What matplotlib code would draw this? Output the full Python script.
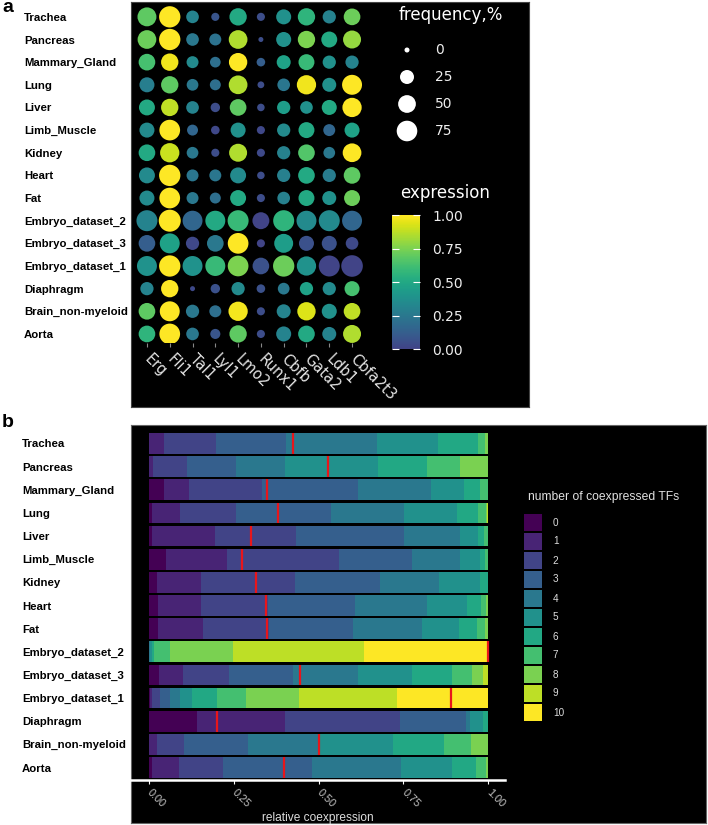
import matplotlib.pyplot as plt
import numpy as np
from matplotlib.colors import ListedColormap, Normalize
from matplotlib.cm import ScalarMappable

# ---- data -------------------------------------------------------------
tissues = ['Trachea', 'Pancreas', 'Mammary_Gland', 'Lung', 'Liver', 'Limb_Muscle',
           'Kidney', 'Heart', 'Fat', 'Embryo_dataset_2', 'Embryo_dataset_3',
           'Embryo_dataset_1', 'Diaphragm', 'Brain_non-myeloid', 'Aorta']
genes = ['Erg', 'Fli1', 'Tal1', 'Lyl1', 'Lmo2', 'Runx1', 'Cbfb', 'Gata2', 'Ldb1', 'Cbfa2t3']

# scaled mean expression (0..1), rows = tissues, cols = genes
expression = [
    [0.69, 1.00, 0.31, 0.08, 0.50, 0.05, 0.375, 0.56, 0.30, 0.72],
    [0.72, 1.00, 0.25, 0.22, 0.85, 0.05, 0.375, 0.75, 0.50, 0.80],
    [0.63, 0.97, 0.34, 0.20, 1.00, 0.12, 0.47, 0.59, 0.375, 0.31],
    [0.28, 0.69, 0.25, 0.20, 0.85, 0.04, 0.24, 0.97, 0.375, 1.00],
    [0.50, 0.875, 0.31, 0.04, 0.69, 0.04, 0.44, 0.375, 0.50, 1.00],
    [0.34, 1.00, 0.16, 0.02, 0.375, 0.02, 0.34, 0.50, 0.16, 0.47],
    [0.50, 0.90, 0.25, 0.04, 0.85, 0.03, 0.30, 0.66, 0.25, 1.00],
    [0.34, 1.00, 0.24, 0.24, 0.34, 0.04, 0.29, 0.50, 0.27, 0.69],
    [0.34, 1.00, 0.25, 0.20, 0.50, 0.04, 0.29, 0.50, 0.375, 0.72],
    [0.31, 1.00, 0.16, 0.50, 0.59, 0.00, 0.56, 0.34, 0.34, 0.16],
    [0.12, 0.47, 0.02, 0.25, 1.00, 0.00, 0.44, 0.06, 0.06, 0.03],
    [0.38, 1.00, 0.38, 0.59, 0.75, 0.06, 0.72, 0.38, 0.00, 0.00],
    [0.31, 1.00, 0.03, 0.06, 0.34, 0.06, 0.25, 0.47, 0.34, 0.63],
    [0.69, 1.00, 0.25, 0.20, 0.98, 0.04, 0.31, 0.93, 0.375, 0.875],
    [0.56, 1.00, 0.25, 0.08, 0.69, 0.04, 0.31, 0.50, 0.31, 0.85],
]
# percent of cells expressing
frequency = [
    [60, 82, 18, 3, 47, 3, 31, 47, 21, 42],
    [58, 82, 18, 15, 58, 0, 31, 47, 37, 52],
    [42, 47, 15, 10, 55, 4, 25, 37, 21, 21],
    [31, 47, 14, 11, 58, 1, 18, 63, 25, 69],
    [37, 47, 18, 6, 42, 2, 21, 18, 31, 63],
    [31, 76, 11, 4, 31, 3, 21, 37, 15, 31],
    [42, 63, 14, 3, 52, 3, 21, 42, 14, 58],
    [37, 82, 15, 15, 37, 2, 21, 42, 21, 42],
    [31, 76, 15, 11, 37, 3, 18, 37, 25, 37],
    [79, 89, 69, 69, 79, 44, 79, 69, 79, 69],
    [42, 69, 21, 42, 76, 3, 60, 31, 31, 18],
    [69, 82, 69, 69, 76, 42, 82, 63, 79, 85],
    [21, 47, 0, 6, 21, 4, 14, 21, 21, 31],
    [42, 69, 21, 15, 63, 3, 25, 55, 31, 42],
    [42, 76, 18, 8, 47, 3, 31, 42, 25, 52],
]
size_breaks = [0, 25, 50, 75]
expr_breaks = [0, 0.25, 0.5, 0.75, 1.0]

tf_counts = list(range(11))
# fraction of cells with 0..10 coexpressed TFs
coexpr = [
    [0.000, 0.044, 0.153, 0.208, 0.267, 0.180, 0.118, 0.020, 0.010, 0.000, 0.000],
    [0.000, 0.013, 0.098, 0.145, 0.146, 0.273, 0.144, 0.099, 0.081, 0.000, 0.000],
    [0.045, 0.072, 0.215, 0.285, 0.214, 0.097, 0.047, 0.025, 0.000, 0.000, 0.000],
    [0.008, 0.083, 0.165, 0.282, 0.214, 0.157, 0.061, 0.025, 0.003, 0.002, 0.000],
    [0.010, 0.185, 0.238, 0.320, 0.164, 0.054, 0.018, 0.012, 0.000, 0.000, 0.000],
    [0.050, 0.179, 0.331, 0.215, 0.141, 0.061, 0.015, 0.008, 0.000, 0.000, 0.000],
    [0.023, 0.131, 0.277, 0.250, 0.173, 0.122, 0.025, 0.000, 0.000, 0.000, 0.000],
    [0.026, 0.126, 0.200, 0.255, 0.213, 0.118, 0.042, 0.013, 0.007, 0.000, 0.000],
    [0.028, 0.131, 0.194, 0.250, 0.203, 0.108, 0.054, 0.023, 0.010, 0.000, 0.000],
    [0.000, 0.000, 0.000, 0.000, 0.003, 0.005, 0.007, 0.047, 0.185, 0.388, 0.365],
    [0.029, 0.072, 0.136, 0.189, 0.189, 0.161, 0.119, 0.059, 0.032, 0.015, 0.000],
    [0.002, 0.006, 0.024, 0.029, 0.030, 0.036, 0.074, 0.086, 0.156, 0.288, 0.270],
    [0.142, 0.258, 0.339, 0.195, 0.012, 0.039, 0.015, 0.000, 0.000, 0.000, 0.000],
    [0.000, 0.023, 0.079, 0.189, 0.212, 0.218, 0.149, 0.080, 0.051, 0.000, 0.000],
    [0.010, 0.080, 0.128, 0.262, 0.262, 0.153, 0.068, 0.030, 0.007, 0.000, 0.000],
]
coexpr_mark = [0.426, 0.529, 0.347, 0.382, 0.301, 0.275, 0.317, 0.345, 0.349,
               1.000, 0.446, 0.892, 0.202, 0.502, 0.398]
coexpr_ticks = [0, 0.25, 0.5, 0.75, 1.0]

# ---- layout helpers ---------------------------------------------------
W, H = 708, 825


def box(x0, y0, x1, y1):
    # pixel box (top-left origin) -> figure fraction rect
    return [x0 / W, 1 - y1 / H, (x1 - x0) / W, (y1 - y0) / H]


def dot_size(f):
    # ggplot-like area scale: diameter in px
    d = 5 + 18 * np.sqrt(np.asarray(f, dtype=float) / 100)
    return (d * 0.72) ** 2


SANS = ['Liberation Sans', 'DejaVu Sans']
cmap_a = ListedColormap(plt.cm.viridis(np.linspace(0.2, 1.0, 256)))

fig = plt.figure(figsize=(7.08, 8.25), dpi=100)
fig.patch.set_facecolor('white')

fig.text(2 / W, 1 - 12 / H, 'a', fontsize=14, fontweight='bold', family=SANS, va='baseline')
fig.text(2 / W, 1 - 427 / H, 'b', fontsize=14, fontweight='bold', family=SANS, va='baseline')

# ---- panel a ----------------------------------------------------------
bg_a = fig.add_axes(box(131, 2, 529, 407))
bg_a.set_facecolor('black')
bg_a.set_xticks([])
bg_a.set_yticks([])
for s in bg_a.spines.values():
    s.set_color('#444444')

ax_a = fig.add_axes(box(131, 1, 368, 343))
ax_a.patch.set_alpha(0)
xx, yy = np.meshgrid(np.arange(len(genes)), np.arange(len(tissues)))
ax_a.scatter(xx.ravel(), yy.ravel(), s=dot_size(np.array(frequency).ravel()),
             c=np.array(expression).ravel(), cmap=cmap_a, vmin=0, vmax=1, linewidths=0)
ax_a.set_xlim(-0.7, 9.7)
ax_a.set_ylim(14.4, -0.7)
for s in ax_a.spines.values():
    s.set_visible(False)
ax_a.set_yticks(range(len(tissues)))
ax_a.set_yticklabels(tissues, ha='left', fontsize=8.2, fontweight='bold', family=SANS)
ax_a.tick_params(axis='y', length=0, pad=77)
ax_a.set_xticks(range(len(genes)))
ax_a.set_xticklabels(genes, rotation=-45, ha='left', va='center', rotation_mode='anchor',
                     fontsize=10.5, color='#e4e4e4')
ax_a.tick_params(axis='x', length=3, width=0.8, color='#888888', pad=7)

# size legend
fig.text(399 / W, 1 - 15 / H, 'frequency,%', color='white', fontsize=12, va='center')
leg_a = fig.add_axes(box(395, 36.5, 470, 144.5))
leg_a.axis('off')
leg_a.set_xlim(0, 1)
leg_a.set_ylim(len(size_breaks) - 0.5, -0.5)
leg_a.scatter([0.16] * len(size_breaks), range(len(size_breaks)), s=dot_size(size_breaks),
              color='white', linewidths=0)
for i, b in enumerate(size_breaks):
    leg_a.text(0.53, i, str(b), color='#eeeeee', fontsize=10, va='center', ha='left')

# colour legend
fig.text(400 / W, 1 - 193 / H, 'expression', color='white', fontsize=12, va='center')
cax = fig.add_axes(box(392, 215, 420, 349))
cb = fig.colorbar(ScalarMappable(norm=Normalize(0, 1), cmap=cmap_a), cax=cax, ticks=expr_breaks)
cb.outline.set_visible(False)
cb.ax.set_yticklabels(['%.2f' % v for v in expr_breaks])
cax.tick_params(colors='white', labelcolor='#eeeeee', direction='in', length=5, width=0.8,
                left=True, right=True, labelsize=10, pad=9)

# ---- panel b ----------------------------------------------------------
bg_b = fig.add_axes(box(131, 425, 706, 823))
bg_b.set_facecolor('black')
bg_b.set_xticks([])
bg_b.set_yticks([])
for s in bg_b.spines.values():
    s.set_color('#666666')

ax_b = fig.add_axes(box(131, 431, 505, 780))
ax_b.patch.set_alpha(0)
fr = np.array(coexpr)
left = np.hstack([np.zeros((len(tissues), 1)), np.cumsum(fr, axis=1)[:, :-1]])
ypos = np.arange(len(tissues))
for k in tf_counts:
    ax_b.barh(ypos, fr[:, k], left=left[:, k], height=0.9,
              color=plt.cm.viridis(k / 10), linewidth=0)
ax_b.vlines(coexpr_mark, ypos - 0.45, ypos + 0.45, color='#e8161b', linewidth=1.6)
ax_b.set_xlim(-0.053, 1.05)
ax_b.set_ylim(14.54, -0.54)
for side in ['top', 'right', 'left']:
    ax_b.spines[side].set_visible(False)
ax_b.spines['bottom'].set_color('white')
ax_b.spines['bottom'].set_linewidth(1.8)
ax_b.set_yticks(ypos)
ax_b.set_yticklabels(tissues, ha='left', fontsize=8.2, fontweight='bold', family=SANS)
ax_b.tick_params(axis='y', length=0, pad=78.5)
ax_b.set_xticks(coexpr_ticks)
ax_b.set_xticklabels(['%.2f' % v for v in coexpr_ticks], rotation=-45, ha='left', va='center',
                     rotation_mode='anchor', fontsize=7.8, family=SANS, color='#c4c4c4')
ax_b.tick_params(axis='x', length=3, width=0.8, color='white', pad=5)
ax_b.set_xlabel('relative coexpression', color='#dddddd', fontsize=8.6, family=SANS, labelpad=2)

fig.text(528 / W, 1 - 497 / H, 'number of coexpressed TFs', color='#e0e0e0', fontsize=8.7,
         family=SANS, va='center')
leg_b = fig.add_axes(box(524, 513, 542, 722))
leg_b.axis('off')
leg_b.set_xlim(0, 1)
leg_b.set_ylim(len(tf_counts), 0)
leg_b.barh(np.array(tf_counts) + 0.5, 1, height=0.92, left=0,
           color=[plt.cm.viridis(k / 10) for k in tf_counts], linewidth=0)
for k in tf_counts:
    leg_b.text(1.6, k + 0.5, str(k), color='#dddddd', fontsize=7.2, family=SANS,
               va='center', ha='left')

fig.savefig('out.png', dpi=100, facecolor='white')
